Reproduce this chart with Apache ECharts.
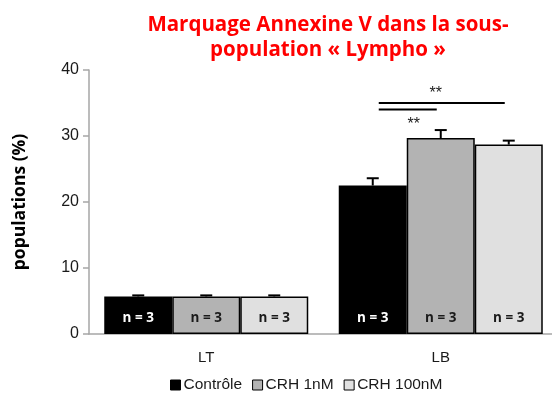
<!DOCTYPE html>
<html>
<head>
<meta charset="utf-8">
<script src="https://cdn.jsdelivr.net/npm/echarts@6/dist/echarts.min.js"></script>
<style>
  html, body { margin: 0; padding: 0; background: #fff; overflow: hidden; }
  #chart { width: 560px; height: 397px; }
</style>
</head>
<body>
<div id="chart"></div>
<script>
// Groups of lymphocytes and treatment conditions
const categories = ['LT', 'LB'];
const seriesNames = ['Contrôle', 'CRH 1nM', 'CRH 100nM'];

// Mean percentage of Annexin V positive cells, per condition
const controle = [5.7, 22.5];
const crh1 = [5.7, 29.7];
const crh100 = [5.7, 28.7];

// Standard errors
const controleErr = [0.15, 1.1];
const crh1Err = [0.15, 1.2];
const crh100Err = [0.15, 0.6];

// Sample sizes printed inside each bar
const sampleSizes = [3, 3, 3];

const yTicks = [0, 10, 20, 30, 40];

// Significance brackets in the LB group (series indices and bracket level)
const comparisons = [
  { from: 0, to: 2, level: 35.0, starLevel: 36.5, label: '**' },
  { from: 0, to: 1, level: 34.0, starLevel: 31.8, label: '**' }
];

const values = [controle, crh1, crh100];
const errors = [controleErr, crh1Err, crh100Err];
const colors = ['#000000', '#b3b3b3', '#e0e0e0'];
const labelColors = ['#ffffff', '#1a1a1a', '#1a1a1a'];
const BAR_W = 68;
const FONT = '"Open Sans", Lato, sans-serif';
const PLAIN = '"Liberation Sans", sans-serif';

const chart = echarts.init(document.getElementById('chart'), null, { renderer: 'canvas' });

const barSeries = seriesNames.map((name, i) => ({
  name: name,
  type: 'bar',
  data: values[i],
  barWidth: BAR_W,
  barGap: '0%',
  itemStyle: { color: colors[i], borderColor: '#000', borderWidth: 1.5 },
  label: {
    show: true,
    position: 'insideBottom',
    distance: 9,
    formatter: () => 'n = ' + sampleSizes[i],
    color: labelColors[i],
    fontWeight: 'bold',
    fontSize: 13.5,
    fontFamily: FONT
  },
  z: 2
}));

// Error bars drawn on top of each bar, offset to the bar's slot in the group
const errSeries = seriesNames.map((name, i) => ({
  type: 'custom',
  name: name + ' err',
  z: 3,
  silent: true,
  data: values[i].map((v, k) => [k, v, v + errors[i][k]]),
  renderItem: function (params, api) {
    const c = api.value(0);
    const top = api.coord([c, api.value(2)]);
    const base = api.coord([c, api.value(1)]);
    const x = top[0] + (i - 1) * BAR_W;
    const cap = 6;
    return {
      type: 'group',
      children: [
        { type: 'line', shape: { x1: x, y1: base[1], x2: x, y2: top[1] }, style: { stroke: '#000', lineWidth: 2 } },
        { type: 'line', shape: { x1: x - cap, y1: top[1], x2: x + cap, y2: top[1] }, style: { stroke: '#000', lineWidth: 2 } }
      ]
    };
  }
}));

chart.setOption({
  animation: false,
  backgroundColor: '#ffffff',
  title: {
    text: 'Marquage Annexine V dans la sous-\npopulation « Lympho »',
    left: 323,
    top: 8,
    textAlign: 'center',
    textStyle: {
      color: '#ff0000',
      fontWeight: 'bold',
      fontSize: 20.5,
      fontFamily: FONT,
      lineHeight: 25
    }
  },
  legend: {
    data: seriesNames,
    bottom: 4,
    left: 170,
    padding: 0,
    icon: 'rect',
    itemWidth: 10,
    itemHeight: 10,
    itemGap: 10,
    textStyle: { fontSize: 15.5, color: '#1a1a1a', fontFamily: PLAIN, padding: [0, 0, 0, -2] },
    itemStyle: { borderColor: '#000', borderWidth: 1 }
  },
  grid: { left: 89, right: 2, top: 70, bottom: 63, containLabel: false },
  xAxis: {
    type: 'category',
    data: categories,
    axisLine: { lineStyle: { color: '#a6a6a6', width: 1.5 } },
    axisTick: { show: false },
    axisLabel: { color: '#1a1a1a', fontSize: 15, margin: 16, fontFamily: PLAIN }
  },
  yAxis: {
    type: 'value',
    min: yTicks[0],
    max: yTicks[yTicks.length - 1],
    interval: 10,
    name: 'populations (%)',
    nameLocation: 'middle',
    nameGap: 60,
    nameTextStyle: { fontWeight: 'bold', fontSize: 17.5, color: '#000', fontFamily: FONT },
    axisLine: { show: true, lineStyle: { color: '#a6a6a6', width: 1.5 } },
    axisTick: { show: true, length: 6, lineStyle: { color: '#a6a6a6', width: 1.5 } },
    splitLine: { show: false },
    axisLabel: { color: '#1a1a1a', fontSize: 16, margin: 10, fontFamily: PLAIN }
  },
  series: barSeries.concat(errSeries)
});

// Significance brackets placed from the rendered bar layouts
function barCenter(seriesIndex, dataIndex) {
  const layout = chart.getModel().getSeriesByIndex(seriesIndex).getData().getItemLayout(dataIndex);
  return layout.x + layout.width / 2;
}
const lbIndex = categories.indexOf('LB');
const starShift = [-6, 6];
const graphics = [];
comparisons.forEach((cmp, k) => {
  const x1 = barCenter(cmp.from, lbIndex) + 6;
  const x2 = barCenter(cmp.to, lbIndex) - 4;
  const y = chart.convertToPixel({ yAxisIndex: 0 }, cmp.level);
  const ys = chart.convertToPixel({ yAxisIndex: 0 }, cmp.starLevel);
  graphics.push({
    type: 'line',
    shape: { x1: x1, y1: y, x2: x2, y2: y },
    style: { stroke: '#000', lineWidth: 2 }
  });
  graphics.push({
    type: 'text',
    x: (x1 + x2) / 2 + starShift[k],
    y: ys,
    style: {
      text: cmp.label,
      fill: '#1a1a1a',
      font: '16px "Liberation Sans", sans-serif',
      align: 'center',
      verticalAlign: 'middle'
    }
  });
});
chart.setOption({ graphic: graphics });
</script>
</body>
</html>
